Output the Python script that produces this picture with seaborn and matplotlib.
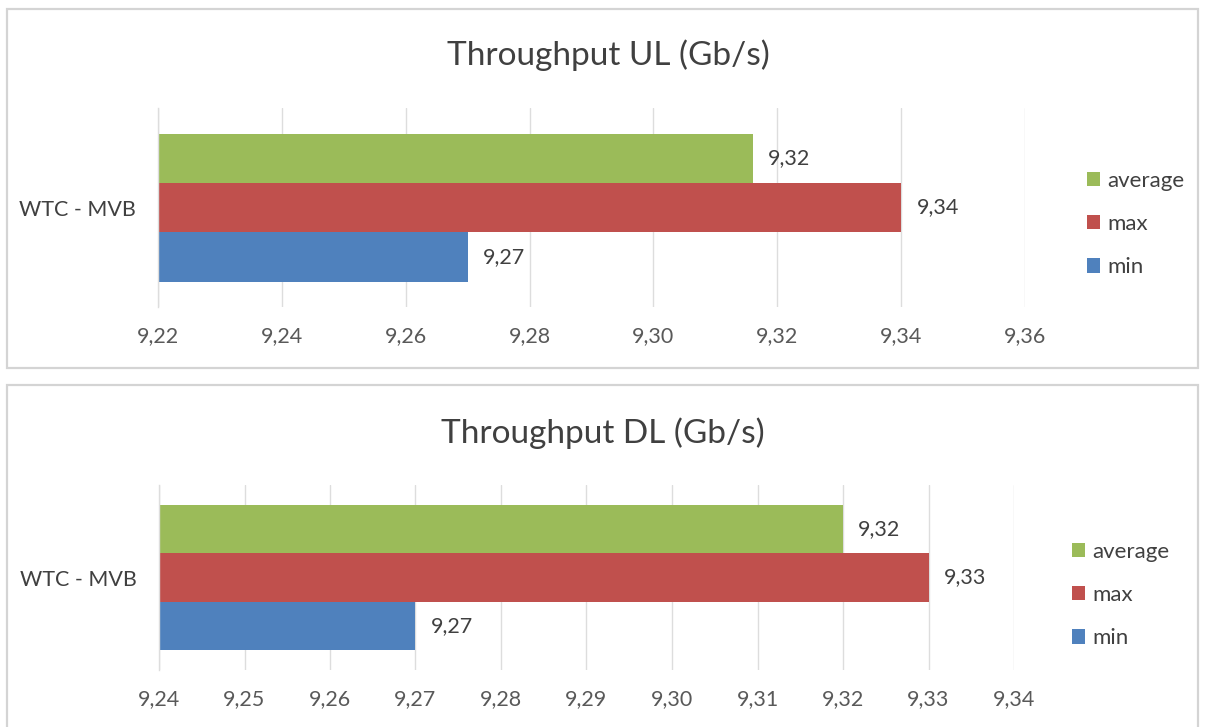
import matplotlib
matplotlib.use("Agg")
import matplotlib.pyplot as plt
from matplotlib.patches import Rectangle
import pandas as pd
import seaborn as sns

# ---- data -------------------------------------------------------------
categories = ["WTC - MVB"]
series = ["average", "max", "min"]
ul_values = [9.316, 9.34, 9.27]
dl_values = [9.32, 9.33, 9.27]
ul_ticks = [9.22, 9.24, 9.26, 9.28, 9.30, 9.32, 9.34, 9.36]
dl_ticks = [9.24, 9.25, 9.26, 9.27, 9.28, 9.29, 9.30, 9.31, 9.32, 9.33, 9.34]
ul_title = "Throughput UL (Gb/s)"
dl_title = "Throughput DL (Gb/s)"

colors = {"average": "#9BBB59", "max": "#C0504D", "min": "#4F81BD"}

sns.set_theme(style="white")
plt.rcParams["font.family"] = ["Lato", "DejaVu Sans"]

W, H = 1205, 727
fig = plt.figure(figsize=(W / 100, H / 100), dpi=100)
fig.patch.set_facecolor("white")


def comma(v):
    return f"{v:.2f}".replace(".", ",")


def px_rect(x0, y0, x1, y1):
    """Convert a pixel box (top-left origin) into figure fractions."""
    return [x0 / W, 1 - y1 / H, (x1 - x0) / W, (y1 - y0) / H]


def panel(values, ticks, title, box, plot_box, bar_frac, title_xy, legend_xy):
    # chart frame
    bx0, by0, bx1, by1 = box
    fig.patches.append(Rectangle((bx0 / W, 1 - by1 / H), (bx1 - bx0) / W, (by1 - by0) / H,
                                 transform=fig.transFigure, fill=False,
                                 edgecolor="#D4D4D4", lw=1.6, clip_on=False))
    fig.text(title_xy[0] / W, 1 - title_xy[1] / H, title, ha="center", va="center",
             fontsize=24, color="#404040")

    ax = fig.add_axes(px_rect(*plot_box))
    df = pd.DataFrame({"link": categories * len(series),
                       "stat": series,
                       "value": values})
    sns.barplot(data=df, y="link", x="value", hue="stat", hue_order=series,
                palette=colors, orient="h", width=0.8, saturation=1,
                linewidth=0, edgecolor="none", ax=ax, zorder=2)

    for cont in ax.containers:
        ax.bar_label(cont, fmt=comma, padding=11, fontsize=15.5, color="#404040")

    ax.set_xlim(ticks[0], ticks[-1])
    half = 0.4 / bar_frac
    ax.set_ylim(half, -half)
    ax.set_xticks(ticks)
    ax.set_xticklabels([comma(t) for t in ticks])
    ax.set_xlabel("")
    ax.set_ylabel("")
    ax.tick_params(axis="x", length=0, pad=14, labelsize=15.5, labelcolor="#595959")
    ax.tick_params(axis="y", length=0, pad=16, labelsize=15.5, labelcolor="#404040")
    ax.xaxis.grid(True, color="#DDDDDD", lw=1)
    ax.yaxis.grid(False)
    ax.set_axisbelow(True)
    for side in ("top", "right", "bottom"):
        ax.spines[side].set_visible(False)
    ax.spines["left"].set_color("#DDDDDD")
    ax.spines["left"].set_linewidth(1)
    ax.set_facecolor("none")

    handles, labels = ax.get_legend_handles_labels()
    ax.get_legend().remove()
    fig.legend(handles, labels, loc="center left",
               bbox_to_anchor=(legend_xy[0] / W, 1 - legend_xy[1] / H),
               frameon=False, fontsize=16, handlelength=0.6, handleheight=0.6,
               handletextpad=0.3, labelspacing=1.05, labelcolor="#404040")
    return ax


panel(ul_values, ul_ticks, ul_title,
      box=(7, 9, 1198, 368), plot_box=(158, 108, 1025, 307), bar_frac=148 / 199,
      title_xy=(608, 55), legend_xy=(1067, 224))
panel(dl_values, dl_ticks, dl_title,
      box=(7, 385, 1198, 760), plot_box=(159, 485, 1014, 670), bar_frac=145 / 185,
      title_xy=(603, 433), legend_xy=(1052, 595))

fig.savefig("out.png", dpi=100, facecolor="white")
